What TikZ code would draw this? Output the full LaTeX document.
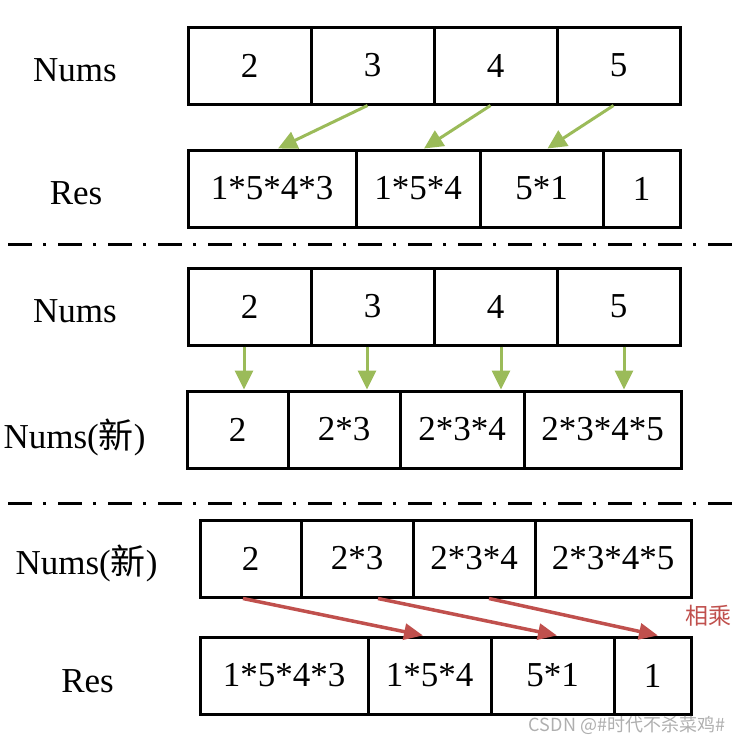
\documentclass[tikz,border=0pt]{standalone}
\usepackage{fontspec}
\setmainfont{Liberation Serif}
\newfontfamily\cjkfont{Noto Sans CJK SC}
\usetikzlibrary{arrows.meta}
\definecolor{arrgreen}{RGB}{155,187,89}
\definecolor{arrred}{RGB}{192,80,77}
\definecolor{markgray}{RGB}{175,175,175}

\begin{document}
\begin{tikzpicture}[x=1pt,y=-1pt,
  every node/.style={font=\fontsize{35}{40}\selectfont},
  cell/.style={draw,line width=3pt,inner sep=0pt,minimum height=77pt},
  lbl/.style={anchor=base,inner sep=0pt},
  sepline/.style={line width=3pt,dash pattern=on 24pt off 11pt on 3pt off 12pt},
  garrow/.style={draw=arrgreen,line width=3pt,-{Triangle[length=19pt,width=18pt]}},
  rarrow/.style={draw=arrred,line width=3.5pt,-{Triangle[length=19pt,width=16pt]}}]
  \useasboundingbox (0,0) rectangle (741,744);

  %% Part 1: Nums -> Res
  \node[lbl] (lblA1) at (75,81) {Nums};
  \node[lbl] (lblA2) at (76,204) {Res};
  \node[cell,minimum width=123pt] (numA1) at (249.5,65.5) {2};
  \node[cell,minimum width=123pt] (numA2) at (372.5,65.5) {3};
  \node[cell,minimum width=123pt] (numA3) at (495.5,65.5) {4};
  \node[cell,minimum width=123pt] (numA4) at (618.5,65.5) {5};
  \node[cell,minimum width=168pt] (resA1) at (272,188.5) {1*5*4*3};
  \node[cell,minimum width=124pt] (resA2) at (418,188.5) {1*5*4};
  \node[cell,minimum width=123pt] (resA3) at (541.5,188.5) {5*1};
  \node[cell,minimum width=77pt]  (resA4) at (641.5,188.5) {1};
  \draw[garrow] ([xshift=-5pt]numA2.south) -- ([xshift=6pt]resA1.north);
  \draw[garrow] ([xshift=-5pt]numA3.south) -- ([xshift=6pt]resA2.north);
  \draw[garrow] ([xshift=-5pt]numA4.south) -- ([xshift=6pt]resA3.north);

  \draw[sepline] (8,244) -- (736,244);

  %% Part 2: Nums -> Nums(new)
  \node[lbl] (lblB1) at (75,322) {Nums};
  \node[lbl] (lblB2) at (74.5,448) {Nums({\cjkfont 新})};
  \node[cell,minimum width=123pt] (numB1) at (249.5,306.5) {2};
  \node[cell,minimum width=123pt] (numB2) at (372.5,306.5) {3};
  \node[cell,minimum width=123pt] (numB3) at (495.5,306.5) {4};
  \node[cell,minimum width=123pt] (numB4) at (618.5,306.5) {5};
  \node[cell,minimum width=101pt] (newB1) at (237.5,429.5) {2};
  \node[cell,minimum width=112pt] (newB2) at (344,429.5) {2*3};
  \node[cell,minimum width=124pt] (newB3) at (462,429.5) {2*3*4};
  \node[cell,minimum width=157pt] (newB4) at (602.5,429.5) {2*3*4*5};
  \draw[garrow] ([xshift=-5.5pt]numB1.south) -- ([xshift=-5.5pt]numB1.south |- newB1.north);
  \draw[garrow] ([xshift=-5.5pt]numB2.south) -- ([xshift=-5.5pt]numB2.south |- newB2.north);
  \draw[garrow] ([xshift=5.5pt]numB3.south) -- ([xshift=5.5pt]numB3.south |- newB3.north);
  \draw[garrow] ([xshift=5.5pt]numB4.south) -- ([xshift=5.5pt]numB4.south |- newB4.north);

  \draw[sepline] (8,503) -- (736,503);

  %% Part 3: Nums(new) -> Res
  \node[lbl] (lblC1) at (86.5,574) {Nums({\cjkfont 新})};
  \node[lbl] (lblC2) at (87.5,692) {Res};
  \node[cell,minimum width=101pt] (newC1) at (250.5,558.5) {2};
  \node[cell,minimum width=112pt] (newC2) at (357,558.5) {2*3};
  \node[cell,minimum width=122pt] (newC3) at (474,558.5) {2*3*4};
  \node[cell,minimum width=156pt] (newC4) at (613,558.5) {2*3*4*5};
  \node[cell,minimum width=168pt] (resC1) at (284,675.5) {1*5*4*3};
  \node[cell,minimum width=123pt] (resC2) at (429.5,675.5) {1*5*4};
  \node[cell,minimum width=123pt] (resC3) at (552.5,675.5) {5*1};
  \node[cell,minimum width=77pt]  (resC4) at (652.5,675.5) {1};
  \draw[rarrow] ([xshift=-7.5pt]newC1.south) -- ([xshift=-6.5pt]resC2.north);
  \draw[rarrow] ([xshift=21pt]newC2.south) -- ([xshift=4.5pt]resC3.north);
  \draw[rarrow] ([xshift=15pt]newC3.south) -- ([xshift=5.5pt]resC4.north);
  \node[text=arrred,font=\cjkfont\fontsize{23}{25}\selectfont] (mul) at (708.5,616) {相乘};

  %% watermark
  \node[text=markgray,font=\cjkfont\fontsize{18}{20}\selectfont] (mark) at (627,725) {CSDN @\#时代不杀菜鸡\#};
\end{tikzpicture}
\end{document}
